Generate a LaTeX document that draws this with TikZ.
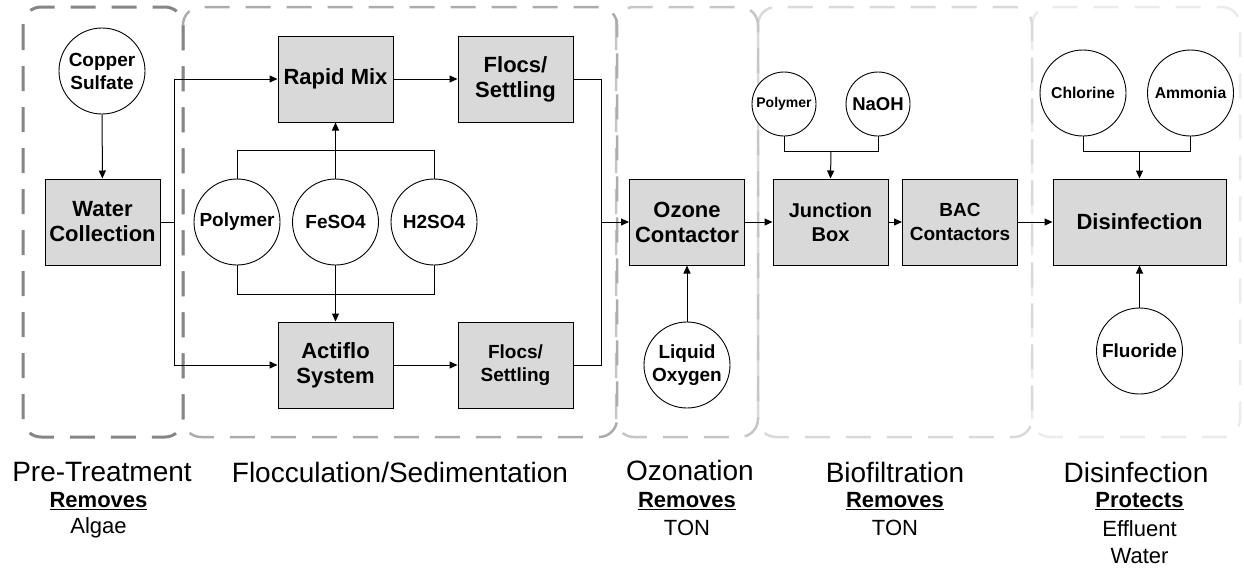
\documentclass[tikz,border=0pt]{standalone}
\usepackage{fontspec}
\setmainfont{Liberation Sans}
\usetikzlibrary{positioning, arrows.meta}

\begin{document}
\begin{tikzpicture}[
    x=1pt, y=-1pt,
    node distance=64pt,
    box/.style={draw, line width=1pt, fill=gray!30, minimum width=115pt, minimum height=86pt, align=center, inner sep=2pt, font=\bfseries\fontsize{22}{25}\selectfont},
    chem/.style={draw, circle, line width=0.9pt, fill=white, minimum size=86pt, inner sep=0pt, align=center, font=\bfseries\fontsize{19}{23}\selectfont},
    arrow/.style={-{Triangle[length=8pt, width=7pt]}, line width=1pt},
    feed/.style={line width=1pt},
    stage/.style={rounded corners=18pt, line width=2.5pt, dash pattern=on 25pt off 16pt},
    title/.style={font=\fontsize{28}{30}\selectfont, inner sep=0pt},
    role/.style={font=\bfseries\fontsize{22}{24}\selectfont, inner sep=0pt},
    target/.style={font=\fontsize{22}{24}\selectfont, inner sep=0pt},
]

\useasboundingbox (0,0) rectangle (1244,571);

% Stage outlines
\draw[stage, color=gray!16] (1032,7) rectangle (1240,437);
\draw[stage, color=gray!30] (758,7) rectangle (1032,437);
\draw[stage, color=gray!45] (616,7) rectangle (758,437);
\draw[stage, color=gray!65] (183,7) rectangle (617,437);
\draw[stage, color=gray!95, line width=3pt] (23,7) rectangle (183,437);

% Nodes
\node[chem] (copper) at (102,71) {Copper\\Sulfate};
\node[box] (water) at (102.5,222) {Water\\Collection};
\node[box] (rapid) at (335.5,79) {Rapid Mix};
\node[box, right=of rapid] (flocsa) {Flocs/\\Settling};
\node[chem] (poly) at (237,222) {Polymer};
\node[chem] (feso) at (335.5,222) {FeSO4};
\node[chem] (hso) at (434,222) {H2SO4};
\node[box] (actiflo) at (335.5,365) {Actiflo\\System};
\node[box, right=of actiflo, font=\bfseries\fontsize{19}{23}\selectfont] (flocsb) {Flocs/\\Settling};
\node[box] (ozone) at (687,222) {Ozone\\Contactor};
\node[chem] (oxygen) at (687,365) {Liquid\\Oxygen};
\node[box, font=\bfseries\fontsize{20}{24}\selectfont] (junction) at (830.5,222) {Junction\\Box};
\node[box, font=\bfseries\fontsize{19}{24}\selectfont] (bac) at (960,222) {BAC\\Contactors};
\node[box, minimum width=173pt] (disinf) at (1139.5,222) {Disinfection};
\node[chem, minimum size=64pt, font=\bfseries\fontsize{14}{16}\selectfont] (polyb) at (784,104) {Polymer};
\node[chem, minimum size=64pt, font=\bfseries\fontsize{18.5}{20}\selectfont] (naoh) at (878,104) {NaOH};
\node[chem, font=\bfseries\fontsize{15.7}{18}\selectfont] (chlorine) at (1083,93) {Chlorine};
\node[chem, font=\bfseries\fontsize{15.7}{18}\selectfont] (ammonia) at (1190.5,93) {Ammonia};
\node[chem] (fluoride) at (1139.5,351) {Fluoride};

\coordinate (split) at (174,222);
\coordinate (merge) at (601,222);
\coordinate (jmerge) at (831,151);
\coordinate (dmerge) at (1139.5,151);

% Stage labels
\node[title] (pretitle) at (102,472) {Pre-Treatment};
\node[role] (prerole) at (98.5,501) {\underline{Removes}};
\node[target] (pretarget) at (98.5,528) {Algae};
\node[title] (floctitle) at (400,472) {Flocculation/Sedimentation};
\node[title] (ozotitle) at (690,470) {Ozonation};
\node[role] (ozorole) at (687,501) {\underline{Removes}};
\node[target] (ozotarget) at (687,528) {TON};
\node[title] (biotitle) at (895,472) {Biofiltration};
\node[role] (biorole) at (895,501) {\underline{Removes}};
\node[target] (biotarget) at (895,528) {TON};
\node[title] (distitle) at (1136,472) {Disinfection};
\node[role] (disrole) at (1139.5,501) {\underline{Protects}};
\node[target] (distarget) at (1139.5,529) {Effluent};
\node[target] (distarget2) at (1139.5,556) {Water};

% Arrows between nodes
\draw[arrow] (copper) -- (water);
\draw[feed] (water.east) -- (split);
\draw[arrow] (split) |- (rapid.west);
\draw[arrow] (split) |- (actiflo.west);
\draw[arrow] (rapid) -- (flocsa);
\draw[arrow] (actiflo) -- (flocsb);

\draw[feed] (poly.north) -- ++(0,-28) -| (hso.north);
\draw[arrow] (feso.north) -- (rapid.south);
\draw[feed] (poly.south) -- ++(0,29) -| (hso.south);
\draw[arrow] (feso.south) -- (actiflo.north);

\draw[feed] (flocsa.east) -| (merge);
\draw[feed] (flocsb.east) -| (merge);
\draw[arrow] (merge) -- (ozone.west);
\draw[arrow] (oxygen) -- (ozone);

\draw[arrow] (ozone) -- (junction);
\draw[arrow] (junction) -- (bac);
\draw[arrow] (bac) -- (disinf);

\draw[feed] (polyb.south) -- ++(0,15) -| (naoh.south);
\draw[arrow] (jmerge) -- (junction.north);
\draw[feed] (chlorine.south) -- ++(0,15) -| (ammonia.south);
\draw[arrow] (dmerge) -- (disinf.north);
\draw[arrow] (fluoride) -- (disinf);

\end{tikzpicture}
\end{document}
